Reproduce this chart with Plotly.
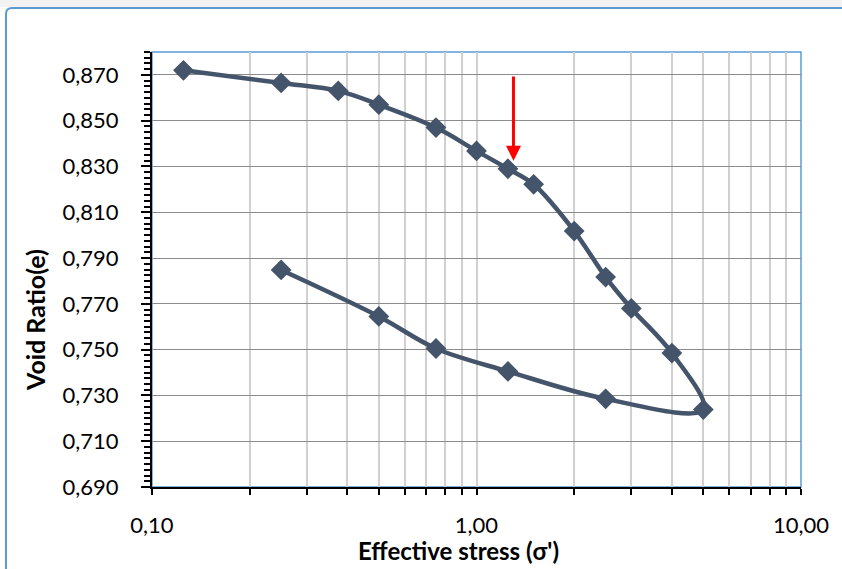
import math
import plotly.graph_objects as go

# Data
stress = [0.125, 0.25, 0.375, 0.5, 0.75, 1.0, 1.25, 1.5, 2.0, 2.5, 3.0, 4.0, 5.0,
          2.5, 1.25, 0.75, 0.5, 0.25]
void_ratio = [0.872, 0.8665, 0.863, 0.857, 0.847, 0.8368, 0.829, 0.8222, 0.8018,
              0.7817, 0.768, 0.7485, 0.7238,
              0.7285, 0.7405, 0.7505, 0.7645, 0.7848]
x_tickvals = [0.1, 0.2, 0.3, 0.4, 0.5, 0.6, 0.7, 0.8, 0.9,
              1, 2, 3, 4, 5, 6, 7, 8, 9, 10]
x_ticklabels = {0.1: "0,10", 1: "1,00", 10: "10,00"}
preconsolidation = 1.3
arrow_top, arrow_tip = 0.870, 0.8325

W, H = 842, 569
L, R, T, B = 152, 801, 52, 487
FONT = "Lato, Carlito, 'Liberation Sans', sans-serif"
SERIES = "#44546a"
BLUE = "#5b9bd5"

def px(x):
    return (x - L) / (R - L)

def py(y):
    return (B - y) / (B - T)

fig = go.Figure()
fig.add_trace(go.Scatter(
    x=stress, y=void_ratio, mode="lines+markers",
    line=dict(color=SERIES, width=4.5, shape="spline", smoothing=1.0),
    marker=dict(symbol="diamond", size=16, color=SERIES),
    showlegend=False, hoverinfo="x+y",
))

shapes = []
shapes.append(dict(type="rect", xref="paper", yref="paper", x0=0, x1=1, y0=0, y1=1,
                   line=dict(color=BLUE, width=1.5), layer="below"))
x0, x1, y0, y1 = px(6), px(860), py(8), py(600)
rx, ry = 6 / (R - L), 6 / (B - T)
path = (f"M{x0+rx},{y0} L{x1},{y0} L{x1},{y1} L{x0},{y1} L{x0},{y0-ry} "
        f"Q{x0},{y0} {x0+rx},{y0} Z")
shapes.append(dict(type="path", xref="paper", yref="paper", path=path,
                   line=dict(color=BLUE, width=2), layer="below"))
shapes.append(dict(type="rect", xref="paper", yref="paper", x0=px(0), x1=px(842),
                   y0=py(7), y1=py(0), line=dict(width=0), fillcolor="#f2f2f2",
                   layer="below"))

annotations = [
    dict(x=math.log10(preconsolidation), y=arrow_tip, xref="x", yref="y",
         ax=0, ay=-(arrow_top - arrow_tip) * (B - T) / (0.880 - 0.690),
         axref="pixel", ayref="pixel",
         showarrow=True, arrowhead=2, arrowsize=1, arrowwidth=3, arrowcolor="#ff0000",
         text=""),
    dict(x=px(458), y=py(550), xref="paper", yref="paper", showarrow=False,
         text="<b>Effective stress (σ')</b>", font=dict(family=FONT, size=24, color="black"),
         xanchor="center", yanchor="middle"),
    dict(x=px(35), y=py(320), xref="paper", yref="paper", showarrow=False,
         text="<b>Void Ratio(e)</b>", textangle=-90,
         font=dict(family=FONT, size=25, color="black"),
         xanchor="center", yanchor="middle"),
]

fig.update_layout(
    width=W, height=H,
    margin=dict(l=L, r=W - R, t=T, b=H - B, pad=0),
    paper_bgcolor="white", plot_bgcolor="white",
    separators=",.",
    font=dict(family=FONT, size=22, color="black"),
    shapes=shapes, annotations=annotations,
    xaxis=dict(
        type="log", range=[-1, 1],
        tickvals=x_tickvals,
        ticktext=[x_ticklabels.get(v, "") for v in x_tickvals],
        ticks="outside", ticklen=6, tickwidth=1.5, tickcolor="black",
        showline=True, linecolor="black", linewidth=2,
        showgrid=True, gridcolor="#d0d0d0", gridwidth=1.5,
        zeroline=False, ticklabelstandoff=12,
        tickfont=dict(family=FONT, size=22, color="black"),
    ),
    yaxis=dict(
        range=[0.690, 0.880], tick0=0.690, dtick=0.02, tickformat=".3f",
        ticks="outside", ticklen=9, tickwidth=1.5, tickcolor="black",
        minor=dict(dtick=0.0025, tick0=0.690, ticks="outside", ticklen=6,
                   tickwidth=1.5, tickcolor="black", showgrid=False),
        showline=True, linecolor="black", linewidth=2,
        showgrid=True, gridcolor="#8c8c8c", gridwidth=1.2,
        zeroline=False, ticklabelstandoff=18,
        tickfont=dict(family=FONT, size=22, color="black"),
    ),
)

fig.write_html("out.html")
